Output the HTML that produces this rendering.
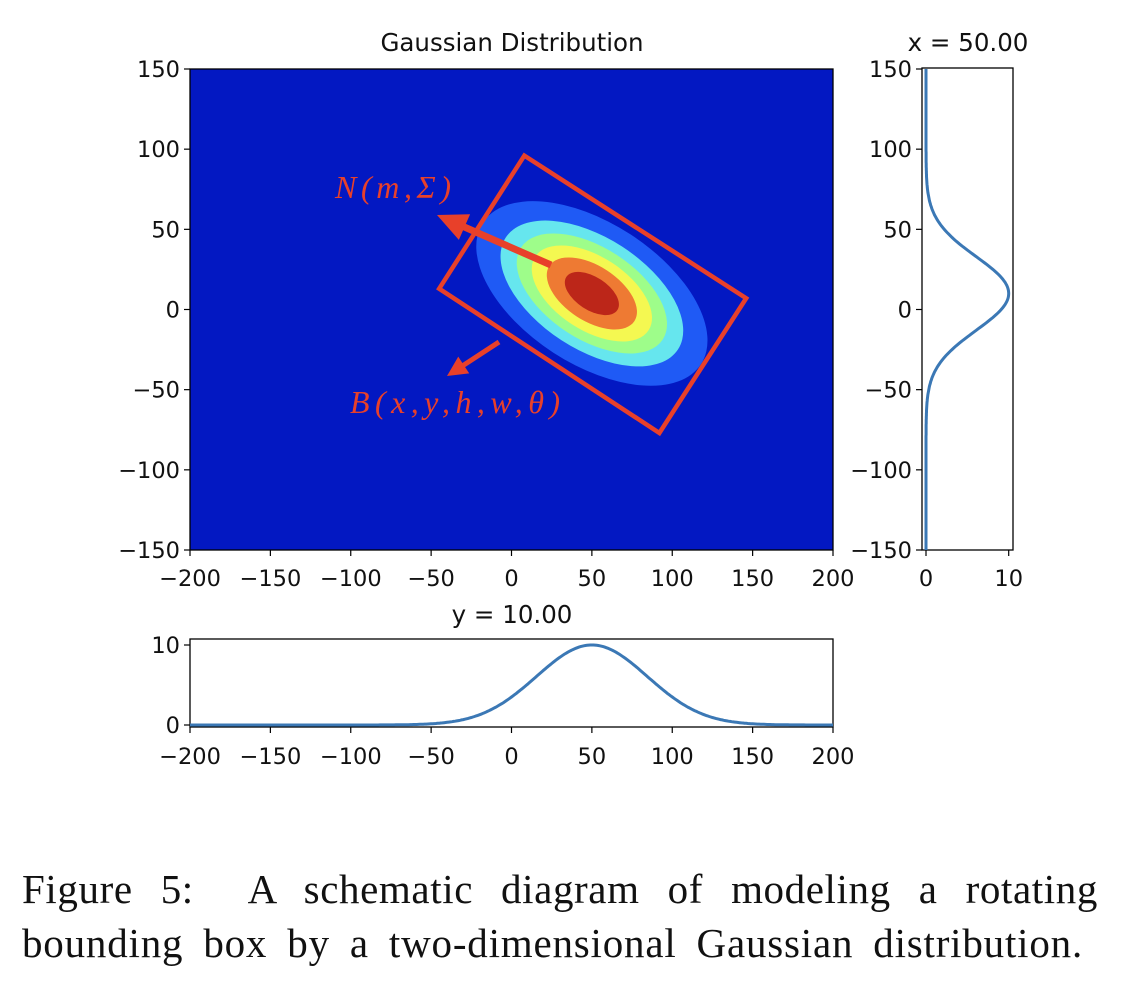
<!DOCTYPE html>
<html><head><meta charset="utf-8"><style>
body{margin:0;background:#fff;width:1128px;height:992px;overflow:hidden}
svg{position:absolute;left:0;top:0}
.cap{position:absolute;left:22px;top:862px;width:1076px;font-family:"Liberation Serif",serif;font-size:41px;line-height:54px;color:#111;white-space:nowrap}
.l1{display:block;width:1076px;text-align:justify;text-align-last:justify;white-space:normal;letter-spacing:0.6px}
.l2{display:block;width:1061px;text-align:justify;text-align-last:justify;white-space:normal;letter-spacing:0.8px}
</style></head><body>
<svg id="fig" width="1128" height="860" font-family="DejaVu Sans, Liberation Sans, sans-serif"></svg>
<div class="cap"><span class="l1">Figure 5:&nbsp; A schematic diagram of modeling a rotating</span><span class="l2">bounding box by a two-dimensional Gaussian distribution.</span></div>
<script>
const xTicks=[-200,-150,-100,-50,0,50,100,150,200];
const yTicks=[-150,-100,-50,0,50,100,150];
const profTicks=[0,10];
const mean=[50,10];
const peak=[10];
const sigmaX=[34.5];
const sigmaY=[23];
const ellipseAxes=[81,44];
const ellipseAngle=[-33];
const contourScales=[1,0.79,0.65,0.52,0.39,0.234];
const contourColors=['#1f5af5','#66e6ee','#9efd8a','#f4f851','#ee7a33','#bc2619'];
const boxCorners=[[8,96],[146,7],[92,-77],[-45,13]];

const NS='http://www.w3.org/2000/svg';
const svg=document.getElementById('fig');
function el(t,a,p){const e=document.createElementNS(NS,t);for(const k in a)e.setAttribute(k,a[k]);(p||svg).appendChild(e);return e;}
const mx=v=>190+(v+200)*643/400, my=v=>550-(v+150)*481/300;
const rx=v=>926+v*8.27;
const by=v=>725-v*8;
const FS=22.5, TS=24.5;

const bg=el('rect',{x:190,y:69,width:643,height:481,fill:'#0318c2'});


const cx=mx(mean[0]), cy=my(mean[1]);
contourScales.forEach((s,i)=>{
  const e=el('ellipse',{cx:cx,cy:cy,rx:ellipseAxes[0]*s*1.605,ry:ellipseAxes[1]*s*1.605,fill:contourColors[i],transform:`rotate(${-ellipseAngle[0]} ${cx} ${cy})`});
  
  
});
const box=el('polygon',{points:boxCorners.map(p=>mx(p[0])+','+my(p[1])).join(' '),fill:'none',stroke:'#e8402a','stroke-width':4.5});


function arrow(x1,y1,x2,y2,w,hw,hl,name){
  const dx=x2-x1,dy=y2-y1,L=Math.hypot(dx,dy),ux=dx/L,uy=dy/L,nx=-uy,ny=ux;
  const bx=x2-ux*hl,byy=y2-uy*hl;
  const pts=[[x1+nx*w/2,y1+ny*w/2],[bx+nx*w/2,byy+ny*w/2],[bx+nx*hw,byy+ny*hw],[x2,y2],[bx-nx*hw,byy-ny*hw],[bx-nx*w/2,byy-ny*w/2],[x1-nx*w/2,y1-ny*w/2]];
  const a=el('polygon',{points:pts.map(p=>p.join(',')).join(' '),fill:'#e8402a'});
  
  
}
arrow(551,265,437,215,7,14,30,'mean-arrow');
arrow(499,342,447,376,5,10,20,'box-arrow');
const t1=el('text',{x:335,y:198,fill:'#e8402a','font-family':'Liberation Serif, DejaVu Serif, serif','font-style':'italic','font-size':32,textLength:116,lengthAdjust:'spacing'});
t1.textContent='N(m,Σ)';


const t2=el('text',{x:350,y:413,fill:'#e8402a','font-family':'Liberation Serif, DejaVu Serif, serif','font-style':'italic','font-size':32,textLength:210,lengthAdjust:'spacing'});
t2.textContent='B(x,y,h,w,θ)';


el('rect',{x:190,y:69,width:643,height:481,fill:'none',stroke:'#000','stroke-width':1.3});

function text(x,y,s,anchor,size,name){const t=el('text',{x:x,y:y,'text-anchor':anchor,'font-size':size,fill:'#111'});t.textContent=s;return t;}
const fmt=v=>v<0?'\u2212'+(-v):''+v;
xTicks.forEach(v=>{el('line',{x1:mx(v),x2:mx(v),y1:550,y2:556,stroke:'#000','stroke-width':1.2});text(mx(v),586,fmt(v),'middle',FS,'main-x-tick-label');});
yTicks.forEach(v=>{el('line',{x1:184,x2:190,y1:my(v),y2:my(v),stroke:'#000','stroke-width':1.2});text(180,my(v)+8,fmt(v),'end',FS,'main-y-tick-label');});
text(512,51,'Gaussian Distribution','middle',TS,'main-title');

el('rect',{x:922,y:68,width:91,height:482,fill:'#fff',stroke:'#000','stroke-width':1.3});
yTicks.forEach(v=>{el('line',{x1:916,x2:922,y1:my(v),y2:my(v),stroke:'#000','stroke-width':1.2});text(912,my(v)+8,fmt(v),'end',FS,'right-y-tick-label');});
profTicks.forEach(v=>{el('line',{x1:rx(v),x2:rx(v),y1:550,y2:556,stroke:'#000','stroke-width':1.2});text(rx(v),586,''+v,'middle',FS,'right-x-tick-label');});
let d='';for(let y=-150;y<=150;y+=1){const val=peak[0]*Math.exp(-((y-mean[1])**2)/(2*sigmaY[0]**2));d+=(y==-150?'M':'L')+rx(val).toFixed(1)+','+my(y).toFixed(1);}
const c1=el('path',{d:d,fill:'none',stroke:'#3b78b5','stroke-width':3});


text(968,51,'x = 50.00','middle',TS,'right-title');

el('rect',{x:190,y:639,width:643,height:88,fill:'#fff',stroke:'#000','stroke-width':1.3});
xTicks.forEach(v=>{el('line',{x1:mx(v),x2:mx(v),y1:727,y2:733,stroke:'#000','stroke-width':1.2});text(mx(v),764,fmt(v),'middle',FS,'bottom-x-tick-label');});
profTicks.forEach(v=>{el('line',{x1:184,x2:190,y1:by(v),y2:by(v),stroke:'#000','stroke-width':1.2});text(180,by(v)+8,''+v,'end',FS,'bottom-y-tick-label');});
d='';for(let x=-200;x<=200;x+=1){const val=peak[0]*Math.exp(-((x-mean[0])**2)/(2*sigmaX[0]**2));d+=(x==-200?'M':'L')+mx(x).toFixed(1)+','+by(val).toFixed(1);}
const c2=el('path',{d:d,fill:'none',stroke:'#3b78b5','stroke-width':3});


text(512,623,'y = 10.00','middle',TS,'bottom-title');
</script>
</body></html>
